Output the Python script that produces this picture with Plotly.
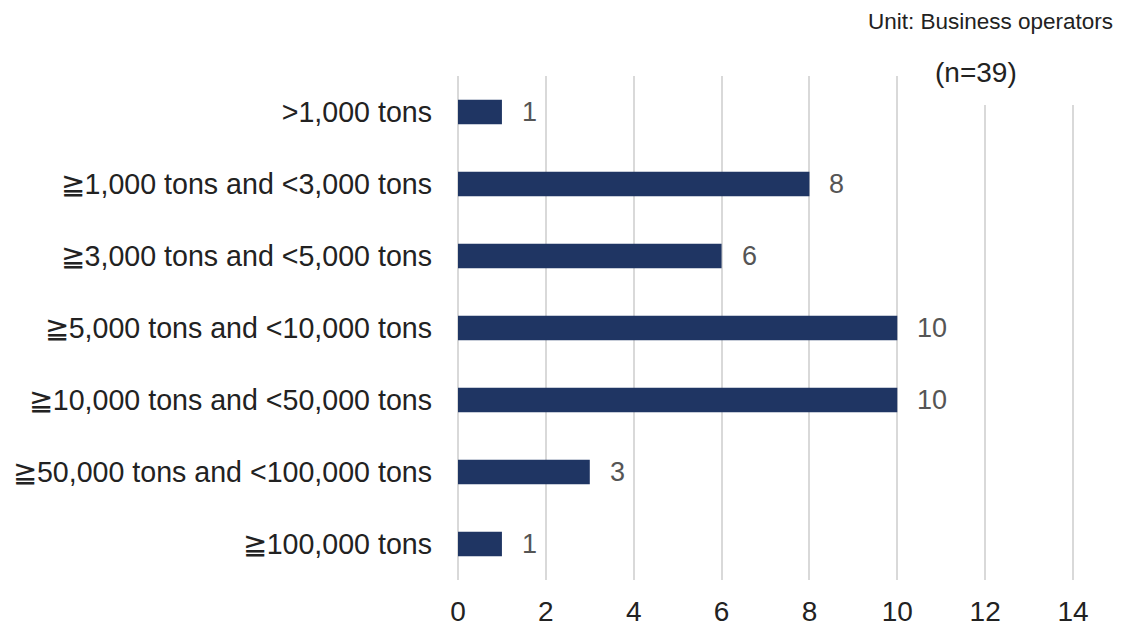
import plotly.graph_objects as go

categories = [">1,000 tons", "≧1,000 tons and <3,000 tons", "≧3,000 tons and <5,000 tons",
              "≧5,000 tons and <10,000 tons", "≧10,000 tons and <50,000 tons",
              "≧50,000 tons and <100,000 tons", "≧100,000 tons"]
values = [1, 8, 6, 10, 10, 3, 1]
x_ticks = [0, 2, 4, 6, 8, 10, 12, 14]

FONT = "Liberation Sans, Arial, sans-serif"
L, R, T, B = 458, 49, 76, 47
PW, PH = 1124 - L - R, 627 - T - B

fig = go.Figure()
fig.add_trace(go.Bar(
    x=values, y=categories, orientation="h",
    marker=dict(color="#1f3563", line=dict(width=0)),
    width=0.34, hoverinfo="skip",
))

for c, v in zip(categories, values):
    fig.add_annotation(x=v, y=c, text=str(v), showarrow=False, xanchor="left",
                       xshift=18, font=dict(family=FONT, size=27, color="#555555"))

# white box behind the "(n=39)" label hides the top of the right gridlines
fig.add_shape(type="rect", xref="paper", yref="paper",
              x0=(912 - L) / PW, x1=(1090 - L) / PW,
              y0=(627 - B - 105) / PH, y1=1.02,
              fillcolor="white", line=dict(width=0), layer="above")

fig.add_annotation(xref="paper", yref="paper", x=(1115 - L) / PW, y=(627 - B - 22) / PH,
                   text="Unit: Business operators", showarrow=False,
                   xanchor="right", yanchor="middle",
                   font=dict(family=FONT, size=22.5, color="#222222"))
fig.add_annotation(xref="paper", yref="paper", x=(976 - L) / PW, y=(627 - B - 72) / PH,
                   text="(n=39)", showarrow=False,
                   xanchor="center", yanchor="middle",
                   font=dict(family=FONT, size=28, color="#222222"))

fig.update_layout(
    width=1124, height=627,
    margin=dict(l=L, r=R, t=T, b=B, autoexpand=False),
    paper_bgcolor="white", plot_bgcolor="white",
    showlegend=False,
    font=dict(family=FONT, color="#222222"),
    xaxis=dict(range=[0, 14 * PW / 615], tickvals=x_ticks, showgrid=True, gridcolor="#d9d9d9",
               gridwidth=1.5, zeroline=True, zerolinecolor="#d9d9d9", zerolinewidth=1.5,
               showline=False, ticks="", tickfont=dict(family=FONT, size=28, color="#222222"),
               ticklabelstandoff=12, automargin=False),
    yaxis=dict(categoryorder="array", categoryarray=categories[::-1], autorange=False,
               range=[-0.5, 6.5], showgrid=False, zeroline=False, showline=False, ticks="",
               tickfont=dict(family=FONT, size=28.6, color="#222222"), ticklabelstandoff=25,
               automargin=False),
)

fig.write_html("out.html")
